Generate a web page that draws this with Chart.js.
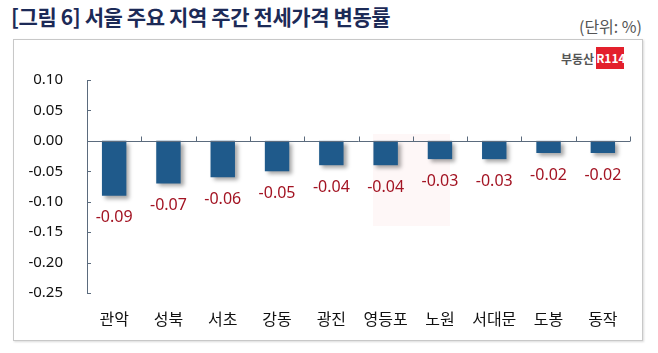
<!DOCTYPE html>
<html><head><meta charset="utf-8">
<script src="https://cdn.jsdelivr.net/npm/chart.js@4/dist/chart.umd.min.js"></script>
<style>
html,body{margin:0;padding:0;background:#fff;width:658px;height:353px;overflow:hidden;font-family:"Noto Sans CJK KR","Noto Sans",sans-serif;}
#title{position:absolute;left:11px;top:1px;font-size:21px;font-weight:bold;color:#1c2a57;letter-spacing:-0.4px;}
#unit{position:absolute;right:16px;top:14px;font-size:16px;color:#555;}
#box{position:absolute;left:13px;top:39px;width:628px;height:300px;border:1px solid #c8c8c8;box-shadow:1px 1px 2px rgba(0,0,0,0.15);}
#logo{position:absolute;left:561px;top:47px;height:22px;display:flex;align-items:center;}
#logo .t{font-size:12px;color:#555;font-weight:bold;margin-right:2px;}
#logo .r{background:#e3202c;color:#fff;font-size:12px;font-weight:bold;width:28px;height:22px;line-height:22px;text-align:center;}
#wm{position:absolute;left:373px;top:134px;width:77px;height:92px;background:rgba(250,215,215,0.2);}
canvas{position:absolute;left:0;top:0;}
</style></head>
<body>
<div id="title">[그림 6] 서울 주요 지역 주간 전세가격 변동률</div>
<div id="unit">(단위: %)</div>
<div id="box"></div>
<div id="wm"></div>
<div id="logo"><span class="t">부동산</span><span class="r">R114</span></div>
<canvas id="c" width="658" height="353"></canvas>
<script>
const categories = ["관악","성북","서초","강동","광진","영등포","노원","서대문","도봉","동작"];
const changes = [-0.09,-0.07,-0.06,-0.05,-0.04,-0.04,-0.03,-0.03,-0.02,-0.02];
const yTicks = [0.10,0.05,0.00,-0.05,-0.10,-0.15,-0.20,-0.25];

const axisColor = "#5b6b7d";

const shadowPlugin = {
  id:'shadow',
  beforeDatasetsDraw(chart){
    const ctx = chart.ctx; ctx.save();
    ctx.shadowColor='rgba(0,0,0,0.35)'; ctx.shadowBlur=4; ctx.shadowOffsetX=3; ctx.shadowOffsetY=3;
  },
  afterDatasetsDraw(chart){ chart.ctx.restore(); }
};

const decorPlugin = {
  id:'decor',
  afterDatasetsDraw(chart){
    const ctx = chart.ctx, x = chart.scales.x, y = chart.scales.y;
    const ca = chart.chartArea;
    ctx.save();
    ctx.strokeStyle = axisColor; ctx.lineWidth = 1;
    const y0 = Math.round(y.getPixelForValue(0)) + 0.5;
    ctx.beginPath(); ctx.moveTo(ca.left, y0); ctx.lineTo(ca.right, y0); ctx.stroke();
    const n = categories.length;
    for (let i = 1; i <= n; i++) {
      const px = Math.round(i < n ? (x.getPixelForValue(i-1) + x.getPixelForValue(i)) / 2 : ca.right) + 0.5;
      ctx.beginPath(); ctx.moveTo(px, y0); ctx.lineTo(px, y0 - 5); ctx.stroke();
    }
    yTicks.forEach(v => {
      const py = Math.round(y.getPixelForValue(v)) + 0.5;
      ctx.beginPath(); ctx.moveTo(ca.left, py); ctx.lineTo(ca.left + 4, py); ctx.stroke();
    });
    ctx.fillStyle = '#a31423';
    ctx.font = '16px "Noto Sans","Open Sans",sans-serif';
    ctx.textAlign = 'center'; ctx.textBaseline = 'middle';
    chart.getDatasetMeta(0).data.forEach((bar, i) => {
      ctx.fillText(changes[i].toFixed(2), bar.x, bar.y + 22);
    });
    ctx.restore();
  }
};

new Chart(document.getElementById('c'), {
  type:'bar',
  data:{ labels: categories, datasets:[{ data: changes, backgroundColor:'#1f5a8b', borderWidth:0, categoryPercentage:1.0, barPercentage:0.45 }]},
  options:{
    responsive:false, animation:false, devicePixelRatio:1,
    layout:{ padding:{ left:0, right:28, top:80, bottom:0 } },
    plugins:{ legend:{display:false}, tooltip:{enabled:false} },
    scales:{
      x:{
        grid:{ display:false, drawTicks:false },
        border:{ display:false },
        ticks:{ color:'#111', font:{ size:16, family:'"Noto Sans CJK KR",sans-serif' }, padding:16, maxRotation:0, autoSkip:false },
        afterFit(s){ s.height = 60; }
      },
      y:{
        min:-0.25, max:0.10,
        afterBuildTicks(s){ s.ticks = yTicks.map(v => ({ value: v })); },
        grid:{ display:false, drawTicks:false },
        border:{ display:true, color:axisColor, width:1 },
        ticks:{ color:'#111', font:{ size:15, family:'"Noto Sans","Open Sans",sans-serif' }, padding:24, callback:(v)=>Number(v).toFixed(2) },
        afterFit(s){ s.width = 87; }
      }
    }
  },
  plugins:[shadowPlugin, decorPlugin]
});
</script>
</body></html>
